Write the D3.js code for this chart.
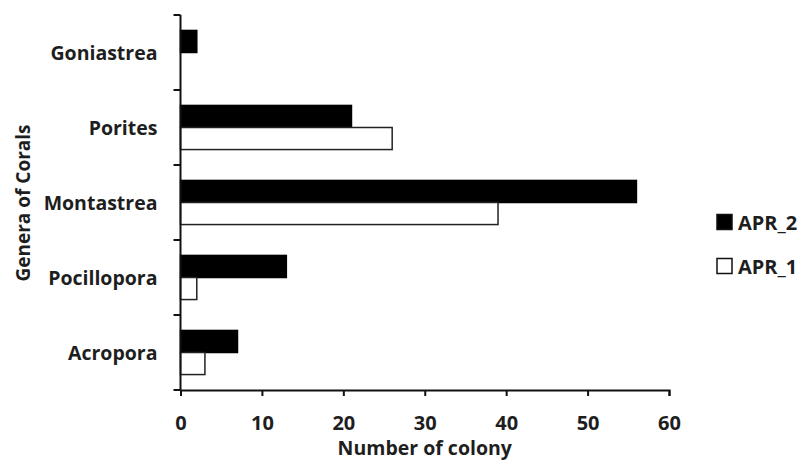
<!DOCTYPE html>
<html>
<head>
<meta charset="utf-8">
<script src="https://cdn.jsdelivr.net/npm/d3@7"></script>
<style>
  body { margin: 0; background: #fff; }
  text { font-family: "Open Sans", sans-serif; font-weight: 700; fill: #1e1e1e; }
</style>
</head>
<body>
<svg id="chart"></svg>
<script>
const genera = ['Goniastrea', 'Porites', 'Montastrea', 'Pocillopora', 'Acropora'];
const seriesNames = ['APR_2', 'APR_1'];
const apr2 = [2, 21, 56, 13, 7];
const apr1 = [0, 26, 39, 2, 3];
const xTicks = [0, 10, 20, 30, 40, 50, 60];

const width = 805;
const height = 468;
const plotLeft = 180.5;
const plotRight = 669;
const plotTop = 15;
const plotBottom = 390;

const svg = d3.select('#chart')
  .attr('width', width)
  .attr('height', height);

const x = d3.scaleLinear()
  .domain([0, 60])
  .range([plotLeft, plotRight]);

const y = d3.scaleBand()
  .domain(genera)
  .range([plotTop, plotBottom])
  .padding(0);

const sub = d3.scaleBand()
  .domain(seriesNames)
  .range([0, y.bandwidth()])
  .paddingInner(0)
  .paddingOuter(0.7);

const fills = { APR_2: '#000', APR_1: '#fff' };

const rows = genera.map((g, i) => ({ genus: g, values: [
  { key: 'APR_2', value: apr2[i] },
  { key: 'APR_1', value: apr1[i] }
]}));

const groups = svg.append('g')
  .selectAll('g')
  .data(rows)
  .join('g')
  .attr('transform', d => `translate(0,${y(d.genus)})`);

groups.selectAll('rect')
  .data(d => d.values.filter(v => v.value > 0))
  .join('rect')
  .attr('x', x(0))
  .attr('y', d => sub(d.key))
  .attr('width', d => x(d.value) - x(0))
  .attr('height', sub.bandwidth())
  .style('fill', d => fills[d.key])
  .style('stroke', d => d.key === 'APR_1' ? '#222' : '#000')
  .style('stroke-width', 1.5);

// x axis
const xAxis = svg.append('g')
  .attr('transform', `translate(0,${plotBottom})`)
  .call(d3.axisBottom(x).tickValues(xTicks).tickSize(6).tickSizeOuter(6).tickPadding(20));
xAxis.select('.domain').style('stroke', '#111').style('stroke-width', 2);
xAxis.selectAll('.tick line').style('stroke', '#111').style('stroke-width', 2);
xAxis.selectAll('.tick text').style('font-size', '20px').style('font-family', '"Open Sans", sans-serif').style('font-weight', 700).style('fill', '#1e1e1e');

// y axis: line with ticks on band boundaries
const yAxis = svg.append('g');
yAxis.append('line')
  .attr('x1', plotLeft).attr('x2', plotLeft)
  .attr('y1', plotTop).attr('y2', plotBottom)
  .style('stroke', '#111').style('stroke-width', 2);
const bounds = genera.map(g => y(g)).concat([plotBottom]);
yAxis.selectAll('line.tick')
  .data(bounds)
  .join('line')
  .attr('class', 'tick')
  .attr('x1', plotLeft - 7).attr('x2', plotLeft)
  .attr('y1', d => d).attr('y2', d => d)
  .style('stroke', '#111').style('stroke-width', 2);
yAxis.selectAll('text')
  .data(genera)
  .join('text')
  .attr('x', plotLeft - 23)
  .attr('y', d => y(d) + y.bandwidth() / 2)
  .attr('text-anchor', 'end')
  .attr('dominant-baseline', 'central')
  .style('font-size', '19.5px')
  .text(d => d);

// axis titles
svg.append('text')
  .attr('x', (plotLeft + plotRight) / 2)
  .attr('y', 447)
  .attr('text-anchor', 'middle')
  .attr('dominant-baseline', 'central')
  .style('font-size', '19.5px')
  .text('Number of colony');

svg.append('text')
  .attr('transform', 'translate(23,203) rotate(-90)')
  .attr('text-anchor', 'middle')
  .attr('dominant-baseline', 'central')
  .style('font-size', '19px')
  .text('Genera of Corals');

// legend
const legend = svg.append('g')
  .selectAll('g')
  .data(seriesNames)
  .join('g')
  .attr('transform', (d, i) => `translate(717,${222 + i * 44})`);
legend.append('rect')
  .attr('x', 0).attr('y', -7.5)
  .attr('width', 15).attr('height', 15)
  .style('fill', d => fills[d])
  .style('stroke', '#111')
  .style('stroke-width', 1.5);
legend.append('text')
  .attr('x', 21)
  .attr('y', 0)
  .attr('dominant-baseline', 'central')
  .style('font-size', '20px')
  .text(d => d);
</script>
</body>
</html>
